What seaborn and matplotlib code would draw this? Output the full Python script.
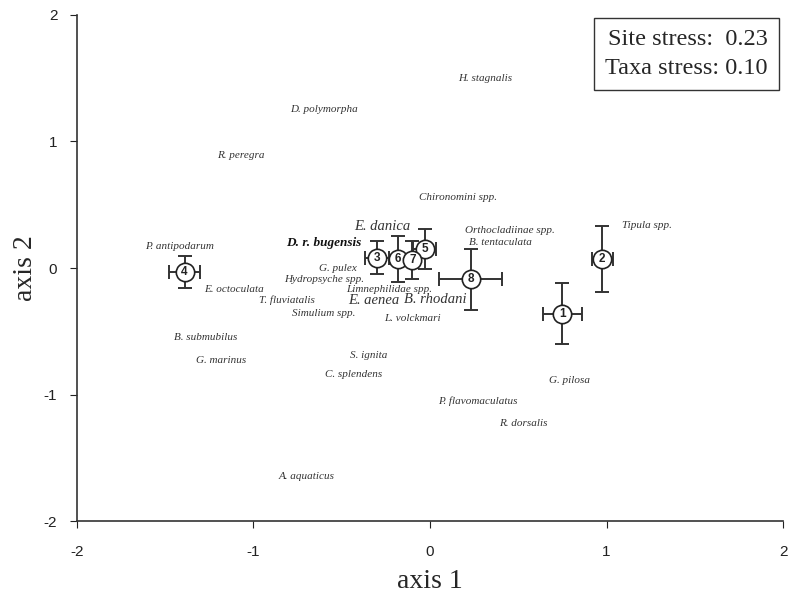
import matplotlib
matplotlib.use("Agg")
import matplotlib.pyplot as plt
import seaborn as sns
import pandas as pd

# site scores (numbered circles) with error bars
site_ids = [1, 2, 3, 4, 5, 6, 7, 8]
site_x = [0.75, 0.975, -0.30, -1.39, -0.03, -0.18, -0.10, 0.23]
site_y = [-0.36, 0.07, 0.08, -0.03, 0.15, 0.07, 0.06, -0.09]
site_xerr = [0.11, 0.06, 0.07, 0.09, 0.065, 0.03, 0.03, 0.18]
site_yerr = [0.24, 0.26, 0.13, 0.125, 0.16, 0.18, 0.15, 0.24]

# taxa scores
taxa = ["H. stagnalis", "D. polymorpha", "R. peregra", "Chironomini spp.",
        "Tipula spp.", "Orthocladiinae spp.", "B. tentaculata", "E. danica",
        "D. r. bugensis", "P. antipodarum", "E. octoculata", "G. pulex",
        "Hydropsyche spp.", "Limnephilidae spp.", "T. fluviatalis", "E. aenea",
        "B. rhodani", "Simulium spp.", "L. volckmari", "B. submubilus",
        "G. marinus", "S. ignita", "C. splendens", "G. pilosa",
        "P. flavomaculatus", "R. dorsalis", "A. aquaticus"]
taxa_x = [0.31, -0.60, -1.07, 0.16, 1.23, 0.45, 0.40, -0.27,
          -0.60, -1.42, -1.11, -0.52, -0.60, -0.23, -0.81, -0.32,
          0.03, -0.60, -0.10, -1.27, -1.18, -0.35, -0.43, 0.79,
          0.27, 0.53, -0.70]
taxa_y = [1.50, 1.25, 0.89, 0.56, 0.34, 0.30, 0.20, 0.33,
          0.20, 0.17, -0.17, 0.00, -0.09, -0.17, -0.25, -0.26,
          -0.25, -0.36, -0.40, -0.55, -0.73, -0.69, -0.84, -0.89,
          -1.05, -1.23, -1.65]
big_taxa = ["E. danica", "E. aenea", "B. rhodani"]
bold_taxa = ["D. r. bugensis"]

sites = pd.DataFrame({"id": site_ids, "x": site_x, "y": site_y,
                      "xerr": site_xerr, "yerr": site_yerr})

sns.set_style("ticks")
plt.rcParams["font.family"] = ["Liberation Sans", "DejaVu Sans"]
plt.rcParams["axes.unicode_minus"] = False

fig = plt.figure(figsize=(8, 5.95), dpi=100)
ax = fig.add_axes([0.096, 0.124, 0.883, 0.851])

serif = ["Liberation Serif", "DejaVu Serif"]
for name, x, y in zip(taxa, taxa_x, taxa_y):
    if name in bold_taxa:
        ax.text(x, y, name, fontsize=9.5, fontweight="bold", style="italic",
                family=serif, color="#111111", ha="center", va="center")
    elif name in big_taxa:
        ax.text(x, y, name, fontsize=10.5, style="italic", family=serif,
                color="#333333", ha="center", va="center")
    else:
        ax.text(x, y, name, fontsize=8, style="italic", family=serif,
                color="#333333", ha="center", va="center")

ax.errorbar(sites["x"], sites["y"], xerr=sites["xerr"], yerr=sites["yerr"],
            fmt="none", ecolor="#333333", elinewidth=1.4, capsize=5,
            capthick=1.4, zorder=3)
sns.scatterplot(data=sites, x="x", y="y", ax=ax, s=175, color="white",
                edgecolor="#222222", linewidth=1.2, zorder=4, legend=False)
for _, r in sites.iterrows():
    ax.text(r["x"], r["y"], str(int(r["id"])), fontsize=8.5,
            fontweight="bold", ha="center", va="center", color="#222222",
            zorder=5)

ax.set_xlim(-2, 2)
ax.set_ylim(-2, 2)
ax.set_xticks([-2, -1, 0, 1, 2])
ax.set_yticks([-2, -1, 0, 1, 2])
ax.tick_params(labelsize=11, colors="#222222", length=5, direction="out")
ax.tick_params(axis="x", pad=12)
ax.tick_params(axis="y", pad=9)
ax.set_xlabel("axis 1", fontsize=20, family=serif, labelpad=7)
ax.set_ylabel("axis 2", fontsize=20, family=serif, labelpad=4)
sns.despine(ax=ax)
for s in ["left", "bottom"]:
    ax.spines[s].set_color("#333333")
    ax.spines[s].set_linewidth(1.2)

ax.text(0.978, 0.972, "Site stress:  0.23\nTaxa stress: 0.10",
        transform=ax.transAxes, ha="right", va="top", fontsize=17.5,
        family=serif, linespacing=1.5,
        bbox=dict(boxstyle="square,pad=0.45", facecolor="white",
                  edgecolor="#333333", linewidth=1))

plt.savefig("out.png", dpi=100)
